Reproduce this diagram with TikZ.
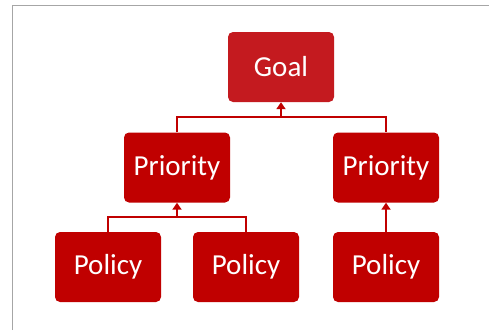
\documentclass[tikz,border=0pt]{standalone}
\usepackage{fontspec}
\setmainfont{Carlito}
\usetikzlibrary{arrows.meta}
\definecolor{boxred}{HTML}{C00000}
\definecolor{goalred}{HTML}{C41A1F}
\definecolor{framegray}{HTML}{A6A6A6}
\tikzset{
  box/.style={fill=boxred, draw=none, rounded corners=5pt, minimum width=106pt, minimum height=70pt, inner sep=0pt, text=white, font=\fontsize{29}{32}\selectfont},
  link/.style={draw=boxred, line width=2.6pt},
  uparrow/.style={link, -{Triangle[width=9pt,length=7pt]}},
}
\begin{document}
\begin{tikzpicture}[x=1pt,y=-1pt]
\useasboundingbox (0,0) rectangle (489,330);
\fill[white] (0,0) rectangle (489,330);
\draw[framegray, line width=1.8pt] (12.5,330) -- (12.5,5.5) -- (489,5.5);
\node[box, fill=goalred] (goal) at (281,67) {Goal};
\node[box] (p1) at (177,167.5) {Priority};
\node[box] (p2) at (386,167.5) {Priority};
\node[box] (q1) at (108,267) {Policy};
\node[box] (q2) at (246,267) {Policy};
\node[box] (q3) at (386,267) {Policy};
\coordinate (j1) at (281,117);
\coordinate (j2) at (177,217);
\draw[link] (p1.north) |- (j1) -| (p2.north);
\draw[uparrow] (j1) -- (goal.south);
\draw[link] (q1.north) |- (j2) -| (q2.north);
\draw[uparrow] (j2) -- (p1.south);
\draw[uparrow] (q3.north) -- (p2.south);
\end{tikzpicture}
\end{document}
